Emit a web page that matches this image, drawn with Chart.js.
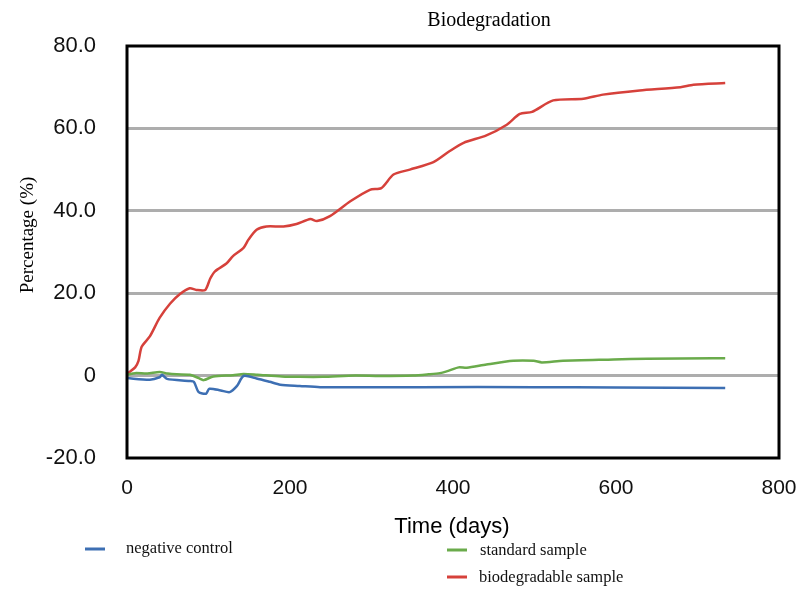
<!DOCTYPE html>
<html>
<head>
<meta charset="utf-8">
<script src="https://cdn.jsdelivr.net/npm/chart.js@4"></script>
<style>
html,body{margin:0;padding:0;background:#fff;}
#wrap{position:relative;width:798px;height:589px;}
</style>
</head>
<body>
<div id="wrap"><canvas id="c" width="798" height="589"></canvas></div>
<script>
// ---- data ----
const chartTitle = "Biodegradation";
const xAxisTitle = "Time (days)";
const yAxisTitle = "Percentage (%)";
const seriesNames = ["negative control", "standard sample", "biodegradable sample"];
const xTicks = [0, 200, 400, 600, 800];
const yTicks = [-20, 0, 20, 40, 60, 80];

const negDays   = [0, 28, 40, 43, 49, 77, 82, 88, 97, 101, 115, 126, 135, 143, 159, 175, 188, 212, 237, 360, 500, 600, 734];
const negValues = [-0.6, -1.0, -0.4, 0.2, -0.8, -1.3, -1.5, -4.0, -4.4, -3.2, -3.6, -4.0, -2.5, -0.1, -0.7, -1.5, -2.2, -2.5, -2.8, -2.8, -2.8, -2.9, -3.0];

const stdDays   = [0, 10, 25, 40, 50, 61, 77, 88, 94, 106, 130, 143, 160, 190, 212, 240, 280, 310, 351, 370, 384, 395, 407, 417, 441, 474, 499, 509, 535, 597, 638, 719, 734];
const stdValues = [0.2, 0.6, 0.5, 0.9, 0.5, 0.3, 0.2, -0.6, -1.1, -0.2, 0.1, 0.4, 0.2, -0.2, -0.3, -0.3, 0.0, -0.1, 0.0, 0.3, 0.6, 1.2, 2.0, 1.9, 2.7, 3.6, 3.6, 3.2, 3.6, 3.9, 4.1, 4.2, 4.2];

const bioDays   = [0, 4, 10, 14, 18, 28, 40, 53, 65, 77, 85, 96, 102, 108, 122, 130, 143, 149, 159, 171, 192, 208, 225, 233, 249, 274, 298, 312, 327, 347, 376, 396, 413, 441, 466, 482, 497, 523, 560, 584, 629, 679, 695, 734];
const bioValues = [0.5, 1.0, 2.0, 3.5, 7.0, 9.5, 14.0, 17.5, 19.8, 21.2, 20.8, 20.8, 23.5, 25.3, 27.2, 29.0, 31.0, 33.0, 35.4, 36.2, 36.2, 36.8, 38.0, 37.5, 38.7, 42.3, 45.1, 45.5, 48.8, 50.0, 51.8, 54.5, 56.5, 58.3, 60.9, 63.5, 64.0, 66.8, 67.2, 68.2, 69.2, 70.0, 70.6, 71.0];

const colors = ["#3d6fb3", "#6aab4b", "#d6413b"];

function pts(d, v){ return d.map((x,i)=>({x:x, y:v[i]})); }

const frame = {
  id: 'frame',
  afterDatasetsDraw(chart){
    const {ctx, chartArea:a} = chart;
    ctx.save();
    ctx.strokeStyle = '#000';
    ctx.lineWidth = 3;
    ctx.strokeRect(a.left, a.top, a.right - a.left, a.bottom - a.top);
    ctx.restore();
  },
  afterDraw(chart){
    const {ctx} = chart;
    ctx.save();
    ctx.fillStyle = '#000';
    ctx.font = '20px "Liberation Serif", "Times New Roman", serif';
    ctx.textAlign = 'center';
    ctx.textBaseline = 'alphabetic';
    ctx.fillText(chartTitle, 489, 26);
    ctx.font = '22px "Liberation Sans", Arial, sans-serif';
    ctx.fillText(xAxisTitle, 452, 533);
    ctx.save();
    ctx.translate(28, 235);
    ctx.rotate(-Math.PI/2);
    ctx.font = '19px "Liberation Serif", "Times New Roman", serif';
    ctx.textBaseline = 'middle';
    ctx.fillText(yAxisTitle, 0, 0);
    ctx.restore();
    const items = [
      {lx: 85, ly: 549, tx: 126, ty: 549},
      {lx: 447, ly: 550, tx: 480, ty: 551},
      {lx: 447, ly: 577, tx: 479, ty: 578}
    ];
    ctx.font = '16.5px "Liberation Serif", "Times New Roman", serif';
    ctx.textAlign = 'left';
    ctx.textBaseline = 'middle';
    items.forEach((it, i) => {
      ctx.strokeStyle = colors[i];
      ctx.lineWidth = 3;
      ctx.beginPath();
      ctx.moveTo(it.lx, it.ly);
      ctx.lineTo(it.lx + 20, it.ly);
      ctx.stroke();
      ctx.fillStyle = '#111';
      ctx.fillText(seriesNames[i], it.tx, it.ty);
    });
    ctx.restore();
  }
};

new Chart(document.getElementById('c'), {
  type: 'line',
  data: {
    datasets: [
      {label: seriesNames[0], data: pts(negDays, negValues), borderColor: colors[0]},
      {label: seriesNames[1], data: pts(stdDays, stdValues), borderColor: colors[1]},
      {label: seriesNames[2], data: pts(bioDays, bioValues), borderColor: colors[2]}
    ].map(d => Object.assign(d, {borderWidth: 2.5, pointRadius: 0, tension: 0.25, fill: false}))
  },
  options: {
    responsive: false,
    animation: false,
    layout: {padding: {left: 0, top: 46, right: 0, bottom: 0}},
    plugins: {legend: {display: false}, title: {display: false}, tooltip: {enabled: false}},
    scales: {
      x: {
        type: 'linear', min: xTicks[0], max: xTicks[xTicks.length-1],
        afterBuildTicks: s => { s.ticks = xTicks.map(v => ({value: v})); },
        afterFit: s => { s.height = 131; s.paddingRight = 19; s.paddingLeft = 0; },
        grid: {display: false, drawTicks: false},
        border: {display: false},
        ticks: {padding: 18, color: '#111', font: {family: '"Liberation Sans", Arial, sans-serif', size: 21}, maxRotation: 0}
      },
      y: {
        min: yTicks[0], max: yTicks[yTicks.length-1],
        afterBuildTicks: s => { s.ticks = yTicks.map(v => ({value: v})); },
        afterFit: s => { s.width = 127; },
        grid: {
          drawTicks: false,
          color: c => (c.tick && (c.tick.value === 80 || c.tick.value === -20)) ? 'rgba(0,0,0,0)' : '#adadad',
          lineWidth: 3
        },
        border: {display: false},
        ticks: {
          padding: 31, color: '#111',
          font: {family: '"Liberation Sans", Arial, sans-serif', size: 22},
          callback: v => v === 0 ? '0' : v.toFixed(1)
        }
      }
    }
  },
  plugins: [frame]
});
</script>
</body>
</html>
